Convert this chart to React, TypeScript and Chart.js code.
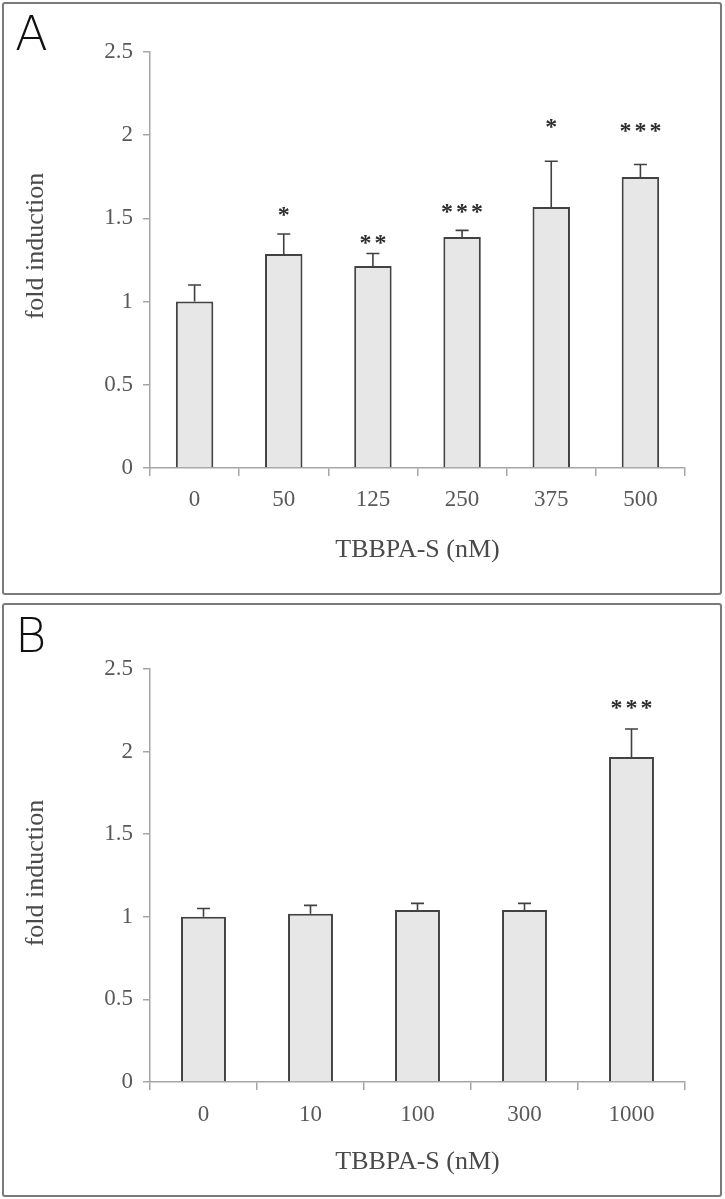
import React, { useEffect, useRef } from 'react';
import { Chart, registerables } from 'chart.js';

Chart.register(...registerables);

// ---------- data ----------
const categoriesA = ['0', '50', '125', '250', '375', '500'];
const meansA = [1.0, 1.286, 1.214, 1.388, 1.568, 1.749];
const errorsA = [0.1, 0.12, 0.075, 0.04, 0.275, 0.075];
const starsA = ['', '*', '**', '***', '*', '***'];
const starLevelsA = [0, 1.545, 1.376, 1.562, 2.073, 2.049];

const categoriesB = ['0', '10', '100', '300', '1000'];
const meansB = [1.0, 1.019, 1.041, 1.041, 1.967];
const errorsB = [0.05, 0.05, 0.04, 0.04, 0.17];
const starsB = ['', '', '', '', '***'];
const starLevelsB = [0, 0, 0, 0, 2.29];

const yTickLabels = ['0', '0.5', '1', '1.5', '2', '2.5'];
const xTitle = 'TBBPA-S (nM)';
const yTitle = 'fold induction';

// ---------- styles ----------
const AXIS = '#a6a6a6';
const LABEL = '#595959';
const SERIF = "'Liberation Serif', 'Times New Roman', serif";

const overlay = {
  id: 'overlay',
  afterDatasetsDraw(chart: any, _args: any, opts: any) {
    const { ctx } = chart;
    const x = chart.scales.x;
    const y = chart.scales.y;
    ctx.save();
    ctx.strokeStyle = '#404040';
    ctx.lineWidth = 1.6;
    opts.means.forEach((m: number, i: number) => {
      const px = x.getPixelForValue(i);
      const y0 = y.getPixelForValue(m);
      const y1 = y.getPixelForValue(m + opts.errors[i]);
      ctx.beginPath();
      ctx.moveTo(px, y0);
      ctx.lineTo(px, y1);
      ctx.moveTo(px - 6.5, y1);
      ctx.lineTo(px + 6.5, y1);
      ctx.stroke();
    });
    ctx.fillStyle = '#2e2e2e';
    ctx.font = `bold 24px ${SERIF}`;
    ctx.textAlign = 'center';
    ctx.textBaseline = 'alphabetic';
    opts.stars.forEach((s: string, i: number) => {
      if (!s) return;
      const px = x.getPixelForValue(i);
      const cy = y.getPixelForValue(opts.starLevels[i]);
      const n = s.length;
      for (let k = 0; k < n; k++) {
        ctx.fillText('*', px + (k - (n - 1) / 2) * 15, cy + 11);
      }
    });
    // y-axis title
    ctx.fillStyle = '#4a4a4a';
    ctx.font = `26px ${SERIF}`;
    ctx.textAlign = 'center';
    ctx.textBaseline = 'middle';
    ctx.translate(32, opts.yTitleCenter);
    ctx.rotate(-Math.PI / 2);
    ctx.fillText(yTitle, 0, 0);
    ctx.setTransform(1, 0, 0, 1, 0, 0);
    // panel letter
    ctx.fillStyle = '#111111';
    ctx.font = "200 48px 'DejaVu Sans', sans-serif";
    ctx.textAlign = 'left';
    ctx.textBaseline = 'alphabetic';
    ctx.fillText(opts.letter, 11, opts.letterBaseline);
    ctx.restore();
  },
};

type PanelProps = {
  letter: string;
  letterBaseline: number;
  categories: string[];
  means: number[];
  errors: number[];
  stars: string[];
  starLevels: number[];
  width: number;
  height: number;
  padTop: number;
  padBottom: number;
  xLabelPad: number;
  xTitlePad: number;
  yTitleCenter: number;
  top: number;
};

function Panel(p: PanelProps) {
  const ref = useRef<HTMLCanvasElement | null>(null);
  useEffect(() => {
    if (!ref.current) return;
    const chart = new Chart(ref.current, {
      type: 'bar',
      data: {
        labels: p.categories,
        datasets: [
          {
            data: p.means,
            backgroundColor: '#e7e7e7',
            borderColor: '#424242',
            borderWidth: 2,
            barPercentage: 0.42,
            categoryPercentage: 1,
          },
        ],
      },
      options: {
        responsive: false,
        animation: false,
        devicePixelRatio: 1,
        layout: { padding: { left: 0, right: 35, top: p.padTop, bottom: p.padBottom } },
        plugins: {
          legend: { display: false },
          tooltip: { enabled: false },
          overlay: {
            means: p.means,
            errors: p.errors,
            stars: p.stars,
            starLevels: p.starLevels,
            letter: p.letter,
            letterBaseline: p.letterBaseline,
            yTitleCenter: p.yTitleCenter,
          },
        } as any,
        scales: {
          x: {
            grid: {
              display: true,
              drawOnChartArea: false,
              drawTicks: true,
              tickLength: 8,
              color: AXIS,
              lineWidth: 1.5,
              offset: true,
            },
            border: { display: true, color: AXIS, width: 1.5 },
            ticks: {
              color: LABEL,
              padding: p.xLabelPad,
              font: { family: SERIF, size: 23 },
              maxRotation: 0,
            },
            title: {
              display: true,
              text: xTitle,
              color: '#4a4a4a',
              font: { family: SERIF, size: 26 },
              padding: { top: 0, bottom: p.xTitlePad },
            },
            afterFit: (s: any) => {
              s.height = 100;
            },
          },
          y: {
            min: 0,
            max: 2.5,
            grid: {
              display: true,
              drawOnChartArea: false,
              drawTicks: true,
              tickLength: 7,
              color: AXIS,
              lineWidth: 1.5,
            },
            border: { display: true, color: AXIS, width: 1.5 },
            ticks: {
              stepSize: 0.5,
              color: LABEL,
              padding: 10,
              font: { family: SERIF, size: 23 },
              callback: (_v: any, i: number) => yTickLabels[i],
            },
            title: { display: false },
            afterFit: (s: any) => {
              s.width = 146;
            },
          },
        },
      },
      plugins: [overlay as any],
    });
    return () => chart.destroy();
  }, []);
  return (
    <div
      style={{
        position: 'absolute',
        left: 2,
        top: p.top,
        width: p.width,
        height: p.height,
        border: '2px solid #7a7a7a',
        borderRadius: 3,
        background: '#ffffff',
      }}
    >
      <canvas
        ref={ref}
        width={p.width}
        height={p.height}
        style={{ position: 'absolute', left: 0, top: 0, width: p.width, height: p.height }}
      />
    </div>
  );
}

export default function App() {
  return (
    <div style={{ position: 'absolute', left: 0, top: 0, width: 725, height: 1199, background: '#fff' }}>
      <Panel
        letter="A"
        letterBaseline={46}
        categories={categoriesA}
        means={meansA}
        errors={errorsA}
        stars={starsA}
        starLevels={starLevelsA}
        width={716}
        height={589}
        padTop={48}
        padBottom={25}
        xLabelPad={10}
        xTitlePad={2}
        yTitleCenter={242}
        top={2}
      />
      <Panel
        letter="B"
        letterBaseline={47}
        categories={categoriesB}
        means={meansB}
        errors={errorsB}
        stars={starsB}
        starLevels={starLevelsB}
        width={716}
        height={590}
        padTop={64}
        padBottom={13}
        xLabelPad={11}
        xTitlePad={4}
        yTitleCenter={268}
        top={603}
      />
    </div>
  );
}
